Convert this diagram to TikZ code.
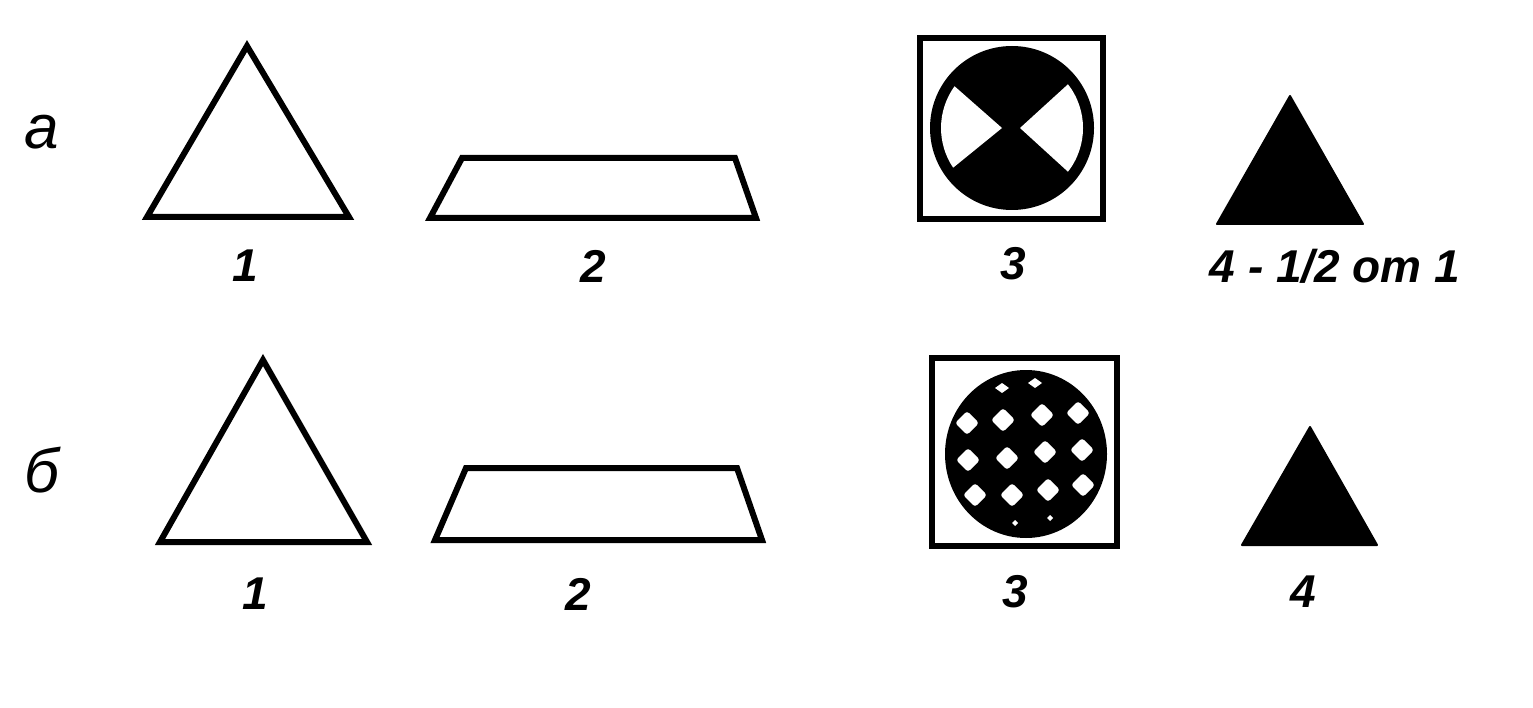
\documentclass[tikz,border=0pt]{standalone}
\usepackage{fontspec}
\setmainfont{Liberation Sans}
\usetikzlibrary{calc}
\begin{document}
\begin{tikzpicture}[x=1pt,y=-1pt,
  outl/.style={line width=6pt, line join=miter},
  solid/.style={fill=black, draw=black, line width=2pt, line join=round},
  lbl/.style={font=\fontsize{46}{46}\selectfont\bfseries\itshape, inner sep=0pt},
  rowlbl/.style={font=\fontsize{62}{62}\selectfont\itshape, inner sep=0pt},
  dot/.style={fill=white, draw=none}]
\useasboundingbox (0,0) rectangle (1533,708);
% row labels
\node[rowlbl] (ra) at (42,132) {а};
\node[rowlbl] (rb) at (42,470) {б};
% ---------- row a ----------
\draw[outl] (247,46) -- (349,217) -- (147,217) -- cycle;
\draw[outl] (462,158) -- (735,158) -- (756,218) -- (430,218) -- cycle;
\draw[outl] (920,38) rectangle (1103,219);
\coordinate (ca) at (1012,128);
\fill[black] (ca) circle (82);
\fill[white] (1002,128) -- ($(ca)+(146:71)$) arc[start angle=146, end angle=216, radius=71] -- cycle;
\fill[white] (1020,128) -- ($(ca)+(38:71)$) arc[start angle=38, end angle=-38, radius=71] -- cycle;
\draw[solid] (1290,96) -- (1363,224) -- (1217,224) -- cycle;
\node[lbl] (a1) at (245,266) {1};
\node[lbl] (a2) at (593,266) {2};
\node[lbl] (a3) at (1013,264) {3};
\node[lbl] (a4) at (1335,266) {4 - 1/2 от 1};
% ---------- row b ----------
\draw[outl] (263,360) -- (367,542) -- (160,542) -- cycle;
\draw[outl] (466,468) -- (737,468) -- (762,540) -- (435,540) -- cycle;
\draw[outl] (932,358) rectangle (1117,546);
\fill[black] (1026,454) ellipse[x radius=81, y radius=84];
\foreach \p in {(967,423),(1003,420),(1042,415),(1078,413),
                (968,460),(1007,458),(1045,452),(1082,450),
                (975,495),(1012,495),(1048,490),(1083,485)}
  \fill[dot, rounded corners=3pt] \p ++(-12,0) -- ++(12,-12) -- ++(12,12) -- ++(-12,12) -- cycle;
\foreach \p in {(1002,388),(1035,383)}
  \fill[dot] \p ++(-7,0) -- ++(7,-5) -- ++(7,5) -- ++(-7,5) -- cycle;
\foreach \p in {(1015,523),(1050,518)}
  \fill[dot] \p ++(-3,0) -- ++(3,-3) -- ++(3,3) -- ++(-3,3) -- cycle;
\draw[solid] (1310,427) -- (1377,545) -- (1242,545) -- cycle;
\node[lbl] (b1) at (255,594) {1};
\node[lbl] (b2) at (578,594) {2};
\node[lbl] (b3) at (1015,592) {3};
\node[lbl] (b4) at (1303,592) {4};
\end{tikzpicture}
\end{document}
